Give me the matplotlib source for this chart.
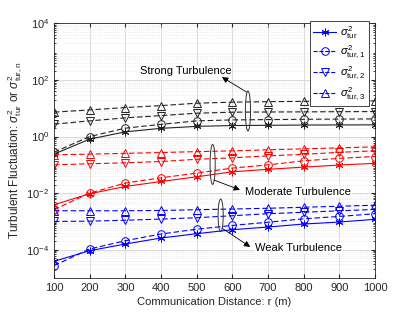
import matplotlib
matplotlib.use('Agg')
import matplotlib.pyplot as plt
from matplotlib.patches import Ellipse
from matplotlib.lines import Line2D
import numpy as np

plt.rcParams['font.family'] = ['Liberation Sans', 'DejaVu Sans']
plt.rcParams['mathtext.fontset'] = 'custom'
plt.rcParams['mathtext.rm'] = 'Liberation Sans'
plt.rcParams['mathtext.it'] = 'Liberation Sans:italic'
plt.rcParams['font.size'] = 8

# distance r (m)
r = [100, 200, 300, 400, 500, 600, 700, 800, 900, 1000]

# strong turbulence
strong_tur = [0.239, 0.81, 1.47, 1.95, 2.29, 2.45, 2.50, 2.55, 2.57, 2.59]
strong_1 = [0.28, 1.0, 1.98, 2.7, 3.58, 3.88, 3.98, 4.08, 4.14, 4.2]
strong_2 = [2.74, 3.58, 4.57, 5.51, 6.7, 7.26, 7.38, 7.45, 7.57, 7.63]
strong_3 = [7.26, 8.76, 10.6, 12.4, 15.1, 16.4, 17.1, 17.5, 17.9, 18.2]

# moderate turbulence
mod_tur = [0.00388, 0.0095, 0.0172, 0.0258, 0.0378, 0.0568, 0.0695, 0.0831, 0.0986, 0.113]
mod_1 = [0.00259, 0.0100, 0.0227, 0.0348, 0.051, 0.0767, 0.100, 0.139, 0.170, 0.197]
mod_2 = [0.100, 0.109, 0.118, 0.131, 0.157, 0.177, 0.208, 0.235, 0.277, 0.313]
mod_3 = [0.226, 0.239, 0.255, 0.272, 0.293, 0.313, 0.340, 0.368, 0.399, 0.433]

# weak turbulence
weak_tur = [3.87e-5, 9.23e-5, 1.59e-4, 2.59e-4, 3.68e-4, 5.09e-4, 6.34e-4, 8.09e-4, 9.5e-4, 1.19e-3]
weak_1 = [2.73e-5, 1.06e-4, 2.08e-4, 3.59e-4, 5.3e-4, 7.21e-4, 9.36e-4, 1.24e-3, 1.5e-3, 1.87e-3]
weak_2 = [1.0e-3, 1.02e-3, 1.10e-3, 1.21e-3, 1.35e-3, 1.59e-3, 1.87e-3, 2.11e-3, 2.38e-3, 2.65e-3]
weak_3 = [2.38e-3, 2.38e-3, 2.38e-3, 2.44e-3, 2.59e-3, 2.74e-3, 2.92e-3, 3.17e-3, 3.44e-3, 3.73e-3]

legend_labels = [r'$\sigma^2_{\rm tur}$', r'$\sigma^2_{\rm tur,1}$',
                 r'$\sigma^2_{\rm tur,2}$', r'$\sigma^2_{\rm tur,3}$']

fig = plt.figure(figsize=(4.15, 3.12), dpi=100)
ax = fig.add_axes([0.130, 0.109, 0.774, 0.816])

groups = [('#222222', [strong_tur, strong_1, strong_2, strong_3]),
          ('#ff0000', [mod_tur, mod_1, mod_2, mod_3]),
          ('#0000ff', [weak_tur, weak_1, weak_2, weak_3])]
asterisk = (6, 2, 0)
markers = [asterisk, 'o', 'v', '^']
styles = ['-', '--', '--', '--']

for col, series in groups:
    for s, m, ls in zip(series, markers, styles):
        ax.plot(r, s, ls, color=col, marker=m, markersize=5.5,
                markerfacecolor='none', lw=0.8, markeredgewidth=0.7,
                dashes=(5, 2.5) if ls == '--' else (None, None))

ax.set_yscale('log')
ax.set_xlim(100, 1000)
ax.set_ylim(1e-5, 1e4)
ax.set_xticks(r)
ax.set_yticks([1e-4, 1e-2, 1, 1e2, 1e4])
ax.yaxis.set_minor_locator(matplotlib.ticker.LogLocator(base=10, subs=np.arange(2, 10), numticks=20))
ax.yaxis.set_minor_formatter(matplotlib.ticker.NullFormatter())
ax.tick_params(which='both', direction='in', top=True, right=True, colors='#262626', labelsize=8)
ax.tick_params(which='major', length=3)
ax.tick_params(which='minor', length=1.5)
ax.grid(True, which='major', color='#d6d6d6', lw=0.6)
ax.grid(True, which='minor', axis='y', color='#e0e0e0', lw=0.5, ls=':')
for sp in ax.spines.values():
    sp.set_color('#262626')
    sp.set_linewidth(0.6)

ax.set_xlabel('Communication Distance: r (m)', color='#262626', labelpad=3)
ax.set_ylabel(r'Turbulent Fluctuation: $\sigma^2_{\rm tur}$ or $\sigma^2_{\rm tur,n}$',
              color='#262626', labelpad=1, fontsize=8.5)

# annotations: ellipses and arrows
ell = [((0.604, 0.656), 0.157), ((0.494, 0.446), 0.157), ((0.519, 0.246), 0.128)]
for c, h in ell:
    ax.add_patch(Ellipse(c, 0.016, h, transform=ax.transAxes, fill=False,
                         ec='#333333', lw=0.7, zorder=5))

ann = [('Strong Turbulence', (0.600, 0.730), (0.523, 0.789), (0.268, 0.813)),
       ('Moderate Turbulence', (0.498, 0.385), (0.579, 0.346), (0.595, 0.339)),
       ('Weak Turbulence', (0.523, 0.196), (0.611, 0.122), (0.626, 0.117))]
for txt, tail, head, tpos in ann:
    ax.annotate('', xy=head, xytext=tail, xycoords='axes fraction',
                textcoords='axes fraction',
                arrowprops=dict(arrowstyle='-|>', color='k', lw=0.6,
                                mutation_scale=9, shrinkA=0, shrinkB=0))
    ax.text(tpos[0], tpos[1], txt, transform=ax.transAxes, va='center',
            ha='left', fontsize=8, color='k', zorder=6,
            bbox=dict(fc='white', ec='none', pad=0.5))

handles = []
for m, ls in zip(markers, styles):
    handles.append(Line2D([0], [0], ls=ls, color='#0000ff', marker=m, lw=0.8,
                          markersize=5.5, markerfacecolor='none',
                          markeredgewidth=0.7))
leg = ax.legend(handles, legend_labels, loc='upper right', bbox_to_anchor=(0.987, 1.02),
                fancybox=False, framealpha=1, edgecolor='#262626', handlelength=2.0,
                labelspacing=0.3, borderpad=0.3, handletextpad=0.4, borderaxespad=0.2,
                fontsize=8)
leg.get_frame().set_linewidth(0.6)

fig.savefig('out.png', dpi=100)
